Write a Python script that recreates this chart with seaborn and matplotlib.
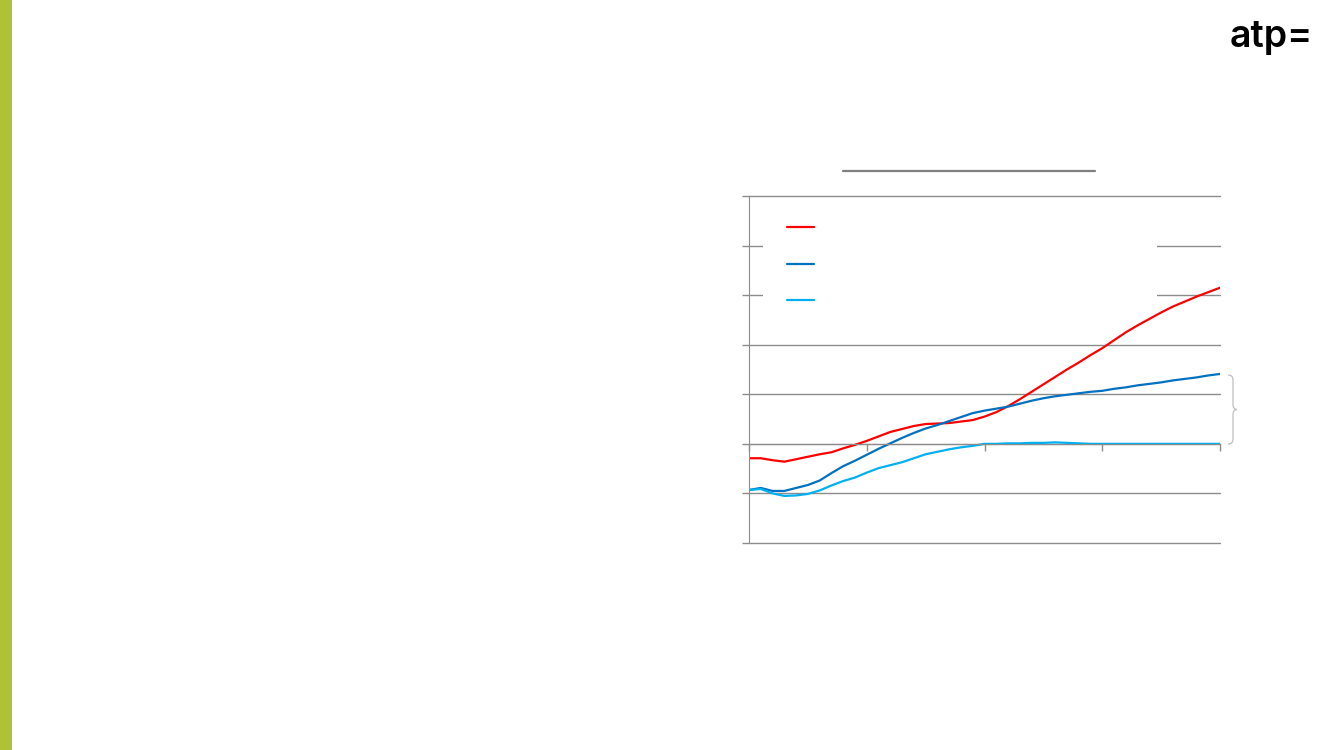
import numpy as np
import pandas as pd
import seaborn as sns
import matplotlib.pyplot as plt
from matplotlib.lines import Line2D
from matplotlib.path import Path
from matplotlib.patches import PathPatch

years = list(range(2000, 2081, 2))

red_series = [-2.9, -2.9, -3.3, -3.6, -3.1, -2.6, -2.1, -1.7, -0.9, -0.2,
              0.6, 1.5, 2.4, 3.0, 3.6, 4.0, 4.1, 4.2, 4.5, 4.8,
              5.5, 6.4, 7.6, 9.0, 10.5, 12.0, 13.5, 15.0, 16.4, 17.9,
              19.3, 20.9, 22.5, 23.9, 25.2, 26.5, 27.7, 28.7, 29.7, 30.6, 31.5]
dark_series = [-9.3, -8.9, -9.5, -9.5, -8.9, -8.3, -7.4, -5.9, -4.5, -3.4,
               -2.2, -1.0, 0.1, 1.2, 2.2, 3.1, 3.8, 4.6, 5.4, 6.2,
               6.7, 7.1, 7.5, 8.1, 8.7, 9.2, 9.6, 9.9, 10.2, 10.5,
               10.7, 11.1, 11.4, 11.8, 12.1, 12.4, 12.8, 13.1, 13.4, 13.8, 14.1]
light_series = [-9.3, -9.1, -10.0, -10.5, -10.4, -10.1, -9.4, -8.4, -7.5, -6.8,
                -5.8, -4.9, -4.3, -3.7, -2.9, -2.1, -1.6, -1.1, -0.7, -0.4,
                0.0, 0.0, 0.1, 0.1, 0.2, 0.2, 0.3, 0.2, 0.1, 0.0,
                0.0, 0.0, 0.0, 0.0, 0.0, 0.0, 0.0, 0.0, 0.0, 0.0, 0.0]

series_names = ["red", "dark", "light"]
colors = {"red": "#FF0000", "dark": "#0070C0", "light": "#00B0F0"}

df = pd.DataFrame({
    "year": years * 3,
    "value": red_series + dark_series + light_series,
    "series": ["red"] * len(years) + ["dark"] * len(years) + ["light"] * len(years),
})

sns.set_style("white")
plt.rcParams['font.family'] = ['Inter', 'DejaVu Sans']

fig = plt.figure(figsize=(13.33, 7.5), dpi=100)
W, H = 1333, 750
ax = fig.add_axes([749 / W, 1 - 543 / H, (1220 - 749) / W, (543 - 196) / H])

grid_c = "#8C8C8C"
ax.set_xlim(2000, 2080)
ax.set_ylim(-20, 50)
ax.set_yticks(range(-20, 51, 10))
ax.set_xticks(range(2000, 2081, 20))
ax.yaxis.grid(True, color=grid_c, linewidth=1.0)
ax.xaxis.grid(False)
ax.set_axisbelow(True)
for gl in ax.get_ygridlines():
    gl.set_clip_on(False)

sns.lineplot(data=df, x="year", y="value", hue="series", palette=colors,
             hue_order=series_names, linewidth=1.6, legend=False, ax=ax)

ax.set_xlabel("")
ax.set_ylabel("")
for s in ["top", "right"]:
    ax.spines[s].set_visible(False)
ax.spines["left"].set_color(grid_c)
ax.spines["bottom"].set_color(grid_c)
ax.spines["bottom"].set_position(("data", 0))
ax.tick_params(axis="both", which="both", labelleft=False, labelbottom=False,
               left=True, bottom=True, length=5, width=1.0, color=grid_c, direction="out")

# legend with hidden labels, white box over the gridlines
handles = [Line2D([], [], color=colors[n], linewidth=1.6) for n in series_names]
leg_top = (543 - 197.5) / 347
leg = ax.legend(handles, ["", "", ""], loc="upper left",
                bbox_to_anchor=((763 - 749) / 471, leg_top - 0.1, (1157 - 763) / 471, 0.1),
                mode="expand", frameon=True, fancybox=False, framealpha=1,
                facecolor="white", edgecolor="none", handlelength=2.0,
                fontsize=10, labelspacing=1.62, borderpad=1.7, borderaxespad=0)
leg.set_zorder(1)

# title underline
fig.add_artist(Line2D([843 / W, 1095 / W], [1 - 171 / H, 1 - 171 / H],
                      color="#7F7F7F", linewidth=1.6, transform=fig.transFigure))

# brace on the right
bx, ty, by = 1228, 375, 444
my = (ty + by) / 2
pts = [(bx, ty), (bx + 5, ty), (bx + 5, ty + 5),
       (bx + 5, my - 5), (bx + 5, my), (bx + 9, my),
       (bx + 5, my), (bx + 5, my + 5),
       (bx + 5, by - 5), (bx + 5, by), (bx, by)]
codes = [Path.MOVETO, Path.CURVE3, Path.CURVE3,
         Path.LINETO, Path.CURVE3, Path.CURVE3,
         Path.CURVE3, Path.CURVE3,
         Path.LINETO, Path.CURVE3, Path.CURVE3]
pts = [(x / W, 1 - y / H) for x, y in pts]
fig.add_artist(PathPatch(Path(pts, codes), facecolor="none", edgecolor="#BFBFBF",
                         linewidth=0.9, transform=fig.transFigure))

# left green band
fig.add_artist(plt.Rectangle((0, 0), 12 / W, 1, facecolor="#AFC236",
                             edgecolor="none", transform=fig.transFigure))

# logo
fig.text(1230 / W, 1 - 47 / H, "atp=", fontsize=27, fontweight="semibold",
         color="black", ha="left", va="baseline")

fig.savefig("out.png", dpi=100)
